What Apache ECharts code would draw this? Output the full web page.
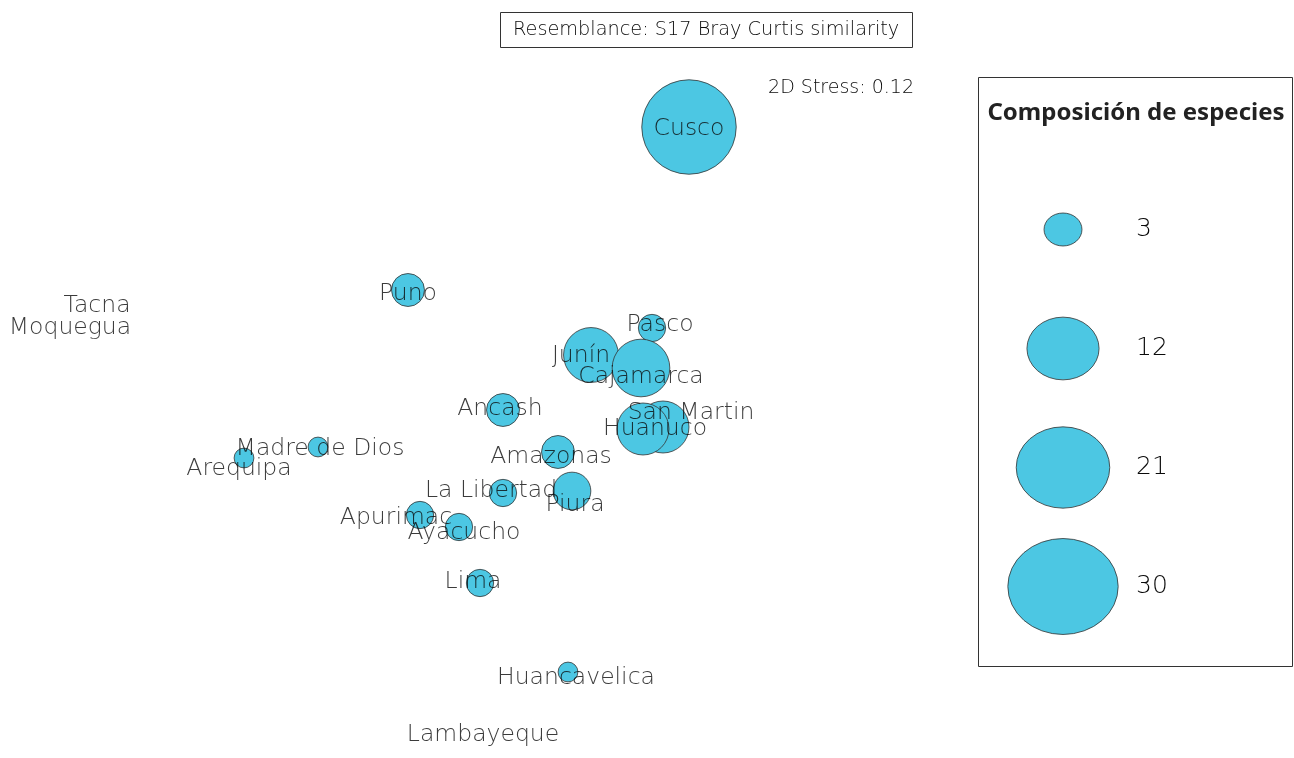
<!DOCTYPE html>
<html>
<head>
<meta charset="utf-8">
<title>nMDS Composición de especies</title>
<script src="https://cdn.jsdelivr.net/npm/echarts@6/dist/echarts.min.js"></script>
<style>
  html, body { margin: 0; padding: 0; background: #fff; }
  #content { width: 1294px; height: 758px; }
</style>
</head>
<body>
<div id="content"></div>
<script>
// regiones y coordenadas nMDS (MDS1, MDS2)
var regions = ["Cusco", "Puno", "Pasco", "Junín", "Cajamarca", "San Martin", "Huanuco",
  "Ancash", "Amazonas", "Madre de Dios", "Arequipa", "La Libertad", "Piura", "Apurimac",
  "Ayacucho", "Lima", "Huancavelica", "Tacna", "Moquegua", "Lambayeque"];
var mds1 = [1.045, -0.36, 0.86, 0.555, 0.805, 0.915, 0.815, 0.115, 0.39, -0.81, -1.18,
  0.115, 0.46, -0.30, -0.105, 0.0, 0.44, -1.915, -2.05, 0.015];
var mds2 = [1.365, 0.55, 0.36, 0.225, 0.16, -0.135, -0.145, -0.05, -0.26, -0.235, -0.29,
  -0.465, -0.455, -0.575, -0.635, -0.915, -1.36, 0.48, 0.37, -1.665];
// numero de especies por region
var species = [29, 3, 2, 9, 10, 8, 8, 3, 3, 1, 1, 2, 4, 2, 2, 2, 1, 0, 0, 0];
// valores de la leyenda de burbujas
var legendValues = [3, 12, 21, 30];

// desplazamiento de etiquetas (px) para que no se encimen, como en el original
var labelShift = {
  "Puno": [0, 2], "Pasco": [8, -5], "Junín": [-10, -1], "Cajamarca": [0, 7],
  "San Martin": [28, -16], "Huanuco": [12, -2], "Ancash": [-3, -3], "Amazonas": [-7, 3],
  "Madre de Dios": [2, 0], "Arequipa": [-5, 9], "La Libertad": [-12, -4], "Piura": [3, 12],
  "Apurimac": [-24, 1], "Ayacucho": [5, 4], "Lima": [-7, -3], "Huancavelica": [8, 4]
};

var FILL = "#4cc7e3";
var TXT = "#0a0a0a";
var FONT = "'DejaVu Sans', sans-serif";

function bubble(v) {
  return v > 0 ? 19.8 * Math.pow(v, 0.464) : 0;
}

var points = regions.map(function (name, i) {
  return { name: name, value: [mds1[i], mds2[i], species[i]] };
});
var labelPoints = regions.map(function (name, i) {
  var s = labelShift[name] || [0, 0];
  return {
    name: name,
    value: [mds1[i], mds2[i]],
    label: { offset: [s[0], s[1] + 2] }
  };
});

var myChart = echarts.init(document.getElementById("content"));
var option = {
  backgroundColor: "#fff",
  animation: false,
  title: [
    {
      text: "Resemblance: S17 Bray Curtis similarity",
      left: 500, top: 12,
      borderWidth: 1, borderColor: "#333",
      padding: [8, 13, 9, 13],
      textStyle: { fontFamily: FONT, fontWeight: 200, fontSize: 19.3, color: TXT }
    },
    {
      text: "2D Stress: 0.12",
      right: 380, top: 79, padding: 0,
      textStyle: { fontFamily: FONT, fontWeight: 200, fontSize: 19, color: TXT }
    },
    {
      text: "Composición de especies",
      left: 1136, top: 101, textAlign: "center", padding: 0,
      textStyle: { fontFamily: "'Noto Sans', sans-serif", fontWeight: "bold", fontSize: 24, color: "#222" }
    }
  ],
  graphic: [
    {
      type: "rect",
      shape: { x: 978.5, y: 77.5, width: 314, height: 589 },
      style: { fill: "none", stroke: "#333", lineWidth: 1 },
      silent: true
    }
  ],
  grid: [
    { left: 0, top: 0, width: 960, height: 758 },
    { left: 1008, top: 170, width: 110, height: 476 }
  ],
  xAxis: [
    { type: "value", min: -2.4, max: 2.4, show: false },
    { type: "value", gridIndex: 1, min: 0, max: 1, show: false }
  ],
  yAxis: [
    { type: "value", min: -1.79, max: 2, show: false },
    {
      type: "category", gridIndex: 1, inverse: true, position: "right",
      data: legendValues.map(String),
      axisLine: { show: false }, axisTick: { show: false }, splitLine: { show: false },
      axisLabel: { margin: 18, fontFamily: FONT, fontWeight: 200, fontSize: 25, color: TXT, align: "left" }
    }
  ],
  series: [
    {
      type: "scatter",
      data: points,
      symbolSize: function (val) { return bubble(val[2]); },
      itemStyle: { color: FILL, borderColor: "#333", borderWidth: 0.8, opacity: 1 },
      z: 2
    },
    {
      type: "scatter",
      data: labelPoints,
      symbolSize: 0,
      silent: true,
      label: {
        show: true, position: "inside",
        formatter: "{b}",
        fontFamily: FONT, fontWeight: 200, fontSize: 23.5, color: TXT
      },
      z: 5
    },
    {
      type: "scatter",
      xAxisIndex: 1, yAxisIndex: 1,
      data: legendValues.map(function (v) { return [0.5, String(v), v]; }),
      symbolSize: function (val) { var d = bubble(val[2]); return [d * 1.15, d]; },
      itemStyle: { color: FILL, borderColor: "#333", borderWidth: 0.8, opacity: 1 }
    }
  ]
};
myChart.setOption(option);
</script>
</body>
</html>
